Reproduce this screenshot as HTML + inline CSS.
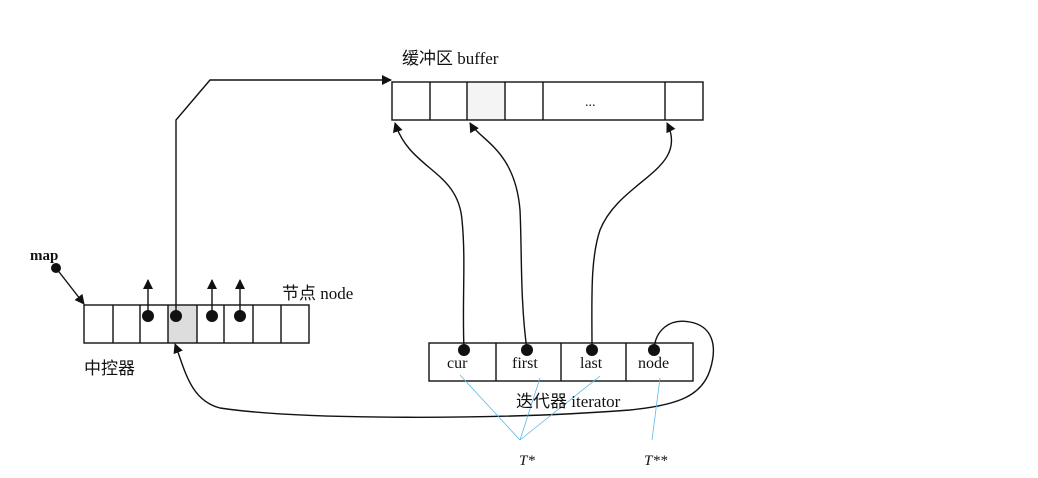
<!DOCTYPE html>
<html><head><meta charset="utf-8"><style>
html,body{margin:0;padding:0;background:#fff;}
svg{display:block;}
text{font-family:"Liberation Serif","Noto Sans CJK SC",serif;fill:#111;}
.cn{font-family:"Liberation Serif","Noto Sans CJK SC",sans-serif;}
</style></head><body>
<svg width="1038" height="478" viewBox="0 0 1038 478" xmlns="http://www.w3.org/2000/svg">
<defs>
<marker id="ah" markerWidth="10" markerHeight="10" refX="9" refY="5" orient="auto" markerUnits="userSpaceOnUse">
<path d="M0,0 L10,5 L0,10 z" fill="#111"/></marker>
</defs>
<g stroke="#111" stroke-width="1.4" fill="none">
<!-- map array -->
<rect x="168" y="305" width="29" height="38" fill="#ddd" stroke="none"/>
<rect x="84" y="305" width="225" height="38"/>
<path d="M113 305V343M140 305V343M168 305V343M197 305V343M224 305V343M253 305V343M281 305V343"/>
<!-- buffer -->
<rect x="467" y="82" width="38" height="38" fill="#f4f4f4" stroke="none"/>
<rect x="392" y="82" width="311" height="38"/>
<path d="M430 82V120M467 82V120M505 82V120M543 82V120M665 82V120"/>
<!-- iterator -->
<rect x="429" y="343" width="264" height="38"/>
<path d="M496 343V381M561 343V381M626 343V381"/>
<!-- arrows -->
<path d="M56 268 L84 304" marker-end="url(#ah)"/>
<path d="M148 316V280" marker-end="url(#ah)"/>
<path d="M212 316V280" marker-end="url(#ah)"/>
<path d="M240 316V280" marker-end="url(#ah)"/>
<path d="M176 316V120 L210 80 H391" marker-end="url(#ah)"/>
<path d="M464 350 C462 300 466 260 462 220 C458 170 410 170 395 123" marker-end="url(#ah)"/>
<path d="M527 350 C520 300 522 250 520 210 C515 150 480 140 470 123" marker-end="url(#ah)"/>
<path d="M592 350 C592 300 590 260 600 230 C620 180 690 170 667 123" marker-end="url(#ah)"/>
<path d="M654 350 C655 330 670 318 690 322 C712 326 718 345 710 370 C702 395 680 405 630 410 C500 420 300 420 220 408 C190 400 185 370 175 344" marker-end="url(#ah)"/>
</g>
<g fill="#111">
<circle cx="56" cy="268" r="5"/>
<circle cx="148" cy="316" r="6"/><circle cx="176" cy="316" r="6"/>
<circle cx="212" cy="316" r="6"/><circle cx="240" cy="316" r="6"/>
<circle cx="464" cy="350" r="6"/><circle cx="527" cy="350" r="6"/>
<circle cx="592" cy="350" r="6"/><circle cx="654" cy="350" r="6"/>
</g>
<g stroke="#5ab8e8" stroke-width="0.8">
<path d="M460 375 L520 440 M540 378 L520 440 M600 376 L520 440 M660 378 L652 440"/>
</g>
<text x="30" y="260" font-size="15" font-weight="bold">map</text>
<text x="282" y="299" font-size="17" class="cn">节点 node</text>
<text x="84" y="374" font-size="17" class="cn">中控器</text>
<text x="402" y="64" font-size="17" class="cn">缓冲区 buffer</text>
<text x="585" y="106" font-size="14">...</text>
<text x="447" y="368" font-size="16">cur</text>
<text x="512" y="368" font-size="16">first</text>
<text x="580" y="368" font-size="16">last</text>
<text x="638" y="368" font-size="16">node</text>
<text x="516" y="407" font-size="17" class="cn">迭代器 iterator</text>
<text x="519" y="465" font-size="15" font-style="italic" font-family="Liberation Sans">T*</text>
<text x="644" y="465" font-size="15" font-style="italic" font-family="Liberation Sans">T**</text>
</svg>
</body></html>
